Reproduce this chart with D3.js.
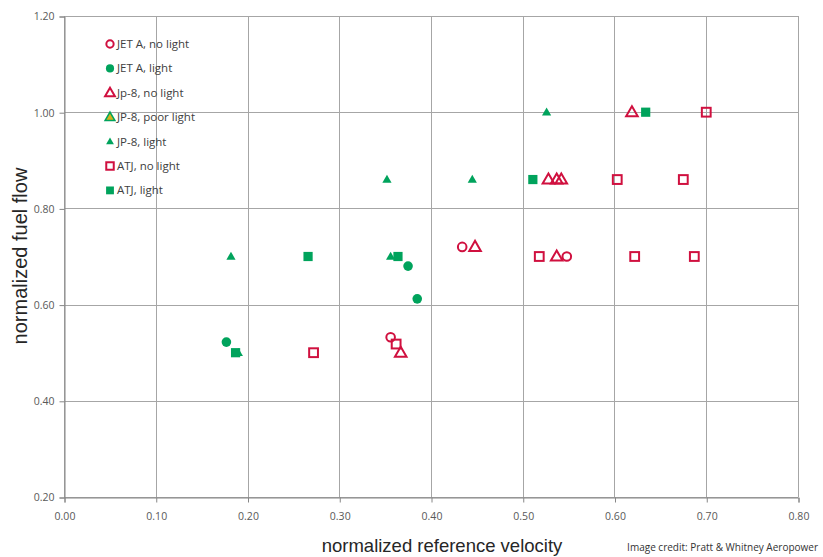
<!DOCTYPE html>
<html>
<head>
<meta charset="utf-8">
<script src="https://cdn.jsdelivr.net/npm/d3@7"></script>
<style>
  html, body { margin: 0; padding: 0; background: #fff; }
  svg { display: block; }
</style>
</head>
<body>
<svg id="chart" width="823" height="557"></svg>
<script>
// Combustor lean-light tests: normalized reference velocity vs normalized fuel flow
const xTicks = [0.0, 0.1, 0.2, 0.3, 0.4, 0.5, 0.6, 0.7, 0.8];
const yTicks = [0.2, 0.4, 0.6, 0.8, 1.0, 1.2];

const jetANoLight   = [[0.434, 0.72], [0.356, 0.532], [0.548, 0.70]];
const jetALight     = [[0.375, 0.68], [0.385, 0.612], [0.177, 0.522]];
const jp8NoLight    = [[0.619, 1.00], [0.448, 0.72], [0.528, 0.86], [0.537, 0.86], [0.542, 0.86],
                       [0.537, 0.70], [0.367, 0.50]];
const jp8PoorLight  = [];
const jp8Light      = [[0.526, 1.00], [0.352, 0.86], [0.445, 0.86], [0.182, 0.70], [0.356, 0.70], [0.190, 0.50]];
const atjNoLight    = [[0.700, 1.00], [0.603, 0.86], [0.675, 0.86], [0.518, 0.70], [0.622, 0.70],
                       [0.687, 0.70], [0.272, 0.50], [0.362, 0.518]];
const atjLight      = [[0.634, 1.00], [0.511, 0.86], [0.266, 0.70], [0.364, 0.70], [0.187, 0.50]];

const RED = "#d0103f";
const GREEN = "#00a35c";

const series = [
  { name: "JET A, no light",  data: jetANoLight,  shape: "circle",   fill: "none",    stroke: RED },
  { name: "JET A, light",     data: jetALight,    shape: "circle",   fill: GREEN,     stroke: "none" },
  { name: "Jp-8, no light",   data: jp8NoLight,   shape: "triangle", fill: "none",    stroke: RED },
  { name: "JP-8, poor light", data: jp8PoorLight, shape: "triangle", fill: "#d4b21c", stroke: GREEN },
  { name: "JP-8, light",      data: jp8Light,     shape: "smalltri", fill: GREEN,     stroke: "none" },
  { name: "ATJ, no light",    data: atjNoLight,   shape: "square",   fill: "none",    stroke: RED },
  { name: "ATJ, light",       data: atjLight,     shape: "fsquare",  fill: GREEN,     stroke: "none" }
];

const svg = d3.select("#chart");

const x = d3.scaleLinear().domain([0, 0.8]).range([64, 798]);
const y = d3.scaleLinear().domain([0.2, 1.2]).range([497, 16]);

// gridlines
const grid = svg.append("g");
grid.selectAll("line.v").data(xTicks).enter().append("line")
  .attr("x1", d => Math.round(x(d)) + 0.5).attr("x2", d => Math.round(x(d)) + 0.5)
  .attr("y1", y(1.2)).attr("y2", y(0.2))
  .attr("stroke", "#a6a6a6").attr("stroke-width", 1);
grid.selectAll("line.h").data(yTicks).enter().append("line")
  .attr("y1", d => Math.round(y(d)) + 0.5).attr("y2", d => Math.round(y(d)) + 0.5)
  .attr("x1", x(0)).attr("x2", x(0.8))
  .attr("stroke", "#a6a6a6").attr("stroke-width", 1);

// axes
const fmt = d3.format(".2f");
const xAxis = svg.append("g")
  .attr("transform", `translate(0.5,${Math.round(y(0.2)) + 0.5})`)
  .call(d3.axisBottom(x).tickValues(xTicks).tickFormat(fmt).tickSize(5).tickPadding(10));
const yAxis = svg.append("g")
  .attr("transform", `translate(${Math.round(x(0)) + 0.5},0.5)`)
  .call(d3.axisLeft(y).tickValues(yTicks).tickFormat(fmt).tickSize(5).tickPadding(5));
[xAxis, yAxis].forEach(a => {
  a.select(".domain").attr("stroke", "#868686");
  a.selectAll(".tick line").attr("stroke", "#868686");
  a.selectAll(".tick text")
    .attr("fill", "#595959")
    .style("font-family", "'Open Sans', 'Liberation Sans', sans-serif")
    .style("font-size", "10.5px");
});

// axis titles
svg.append("text")
  .attr("x", 442).attr("y", 552)
  .attr("text-anchor", "middle")
  .attr("fill", "#262626")
  .style("font-family", "'Liberation Sans', Arial, sans-serif")
  .style("font-size", "18.5px")
  .text("normalized reference velocity");
svg.append("text")
  .attr("transform", "translate(27,256) rotate(-90)")
  .attr("text-anchor", "middle")
  .attr("fill", "#262626")
  .style("font-family", "'Liberation Sans', Arial, sans-serif")
  .style("font-size", "20px")
  .text("normalized fuel flow");
svg.append("text")
  .attr("x", 818).attr("y", 551)
  .attr("text-anchor", "end")
  .attr("fill", "#333")
  .style("font-family", "'Open Sans', sans-serif")
  .style("font-size", "10px")
  .text("Image credit: Pratt & Whitney Aeropower");

// marker drawing
function marker(sel, s, scale) {
  const k = scale || 1;
  if (s.shape === "circle") {
    const open = s.fill === "none";
    sel.append("circle").attr("r", (open ? 4.3 : 4.8) * k)
      .attr("fill", s.fill).attr("stroke", s.stroke).attr("stroke-width", open ? 2 : 0);
  } else if (s.shape === "triangle" || s.shape === "smalltri") {
    const r = (s.shape === "triangle" ? 5.8 : 4.6) * k;
    const open = s.fill === "none";
    const h = r * 1.732;
    sel.append("path")
      .attr("d", `M0,${-h * 0.6}L${r},${h * 0.4}L${-r},${h * 0.4}Z`)
      .attr("fill", s.fill).attr("stroke", s.stroke)
      .attr("stroke-width", open ? 2 : (s.stroke === "none" ? 0 : 1.5))
      .attr("stroke-linejoin", "miter");
  } else if (s.shape === "square") {
    const a = 4.4 * k;
    sel.append("rect").attr("x", -a).attr("y", -a).attr("width", 2 * a).attr("height", 2 * a)
      .attr("fill", "none").attr("stroke", s.stroke).attr("stroke-width", 2);
  } else if (s.shape === "fsquare") {
    const a = 4.6 * k;
    sel.append("rect").attr("x", -a).attr("y", -a).attr("width", 2 * a).attr("height", 2 * a)
      .attr("fill", s.fill);
  }
}

// data points
const plot = svg.append("g");
series.forEach(s => {
  plot.selectAll(null).data(s.data).enter().append("g")
    .attr("transform", d => `translate(${x(d[0])},${y(d[1])})`)
    .each(function () { marker(d3.select(this), s); });
});

// legend
const legend = svg.append("g").attr("transform", "translate(110,44)");
series.forEach((s, i) => {
  const row = legend.append("g").attr("transform", `translate(0,${i * 24.4})`);
  marker(row, s, 0.85);
  row.append("text")
    .attr("x", 7).attr("y", 4)
    .attr("fill", "#404040")
    .style("font-family", "'Open Sans', sans-serif")
    .style("font-size", "11.5px")
    .text(s.name);
});
</script>
</body>
</html>
